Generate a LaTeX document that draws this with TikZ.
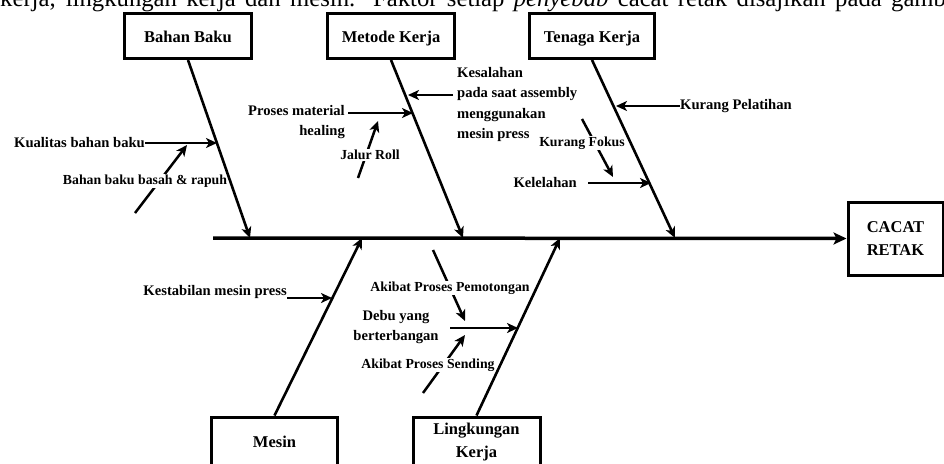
\documentclass[tikz,border=0pt]{standalone}
\usepackage{fontspec}
\setmainfont{Liberation Serif}
\usetikzlibrary{arrows.meta}
\begin{document}
\begin{tikzpicture}[x=1pt,y=-1pt,
  box/.style={draw,line width=3pt,inner sep=0pt,align=center,font=\bfseries\fontsize{16.5}{23}\selectfont},
  topbox/.style={box,minimum height=45pt,text height=15pt,text depth=3pt},
  bone/.style={line width=2.6pt,-{Stealth[length=11pt,width=10pt,inset=3pt]}},
  spine/.style={line width=3.5pt,-{Stealth[length=13pt,width=12pt,inset=3pt]}},
  sub/.style={line width=2.5pt,-{Stealth[length=11pt,width=10pt,inset=3pt]}},
  lbl/.style={inner sep=0pt,font=\bfseries\fontsize{14.6}{20.5}\selectfont},
  elbl/.style={inner sep=1pt,fill=white,font=\bfseries\fontsize{13.8}{17}\selectfont}]
\useasboundingbox (0,0) rectangle (944,463);
\clip (0,0) rectangle (944,463);

% cut-off (justified) body text at the top
\node[anchor=base west,inner sep=0pt,font=\fontsize{24.7}{28}\selectfont] (bodytext) at (0,6.5)
  {\makebox[965pt][s]{kerja, lingkungan kerja dan mesin. Faktor setiap \textit{penyebab} cacat retak disajikan pada gambar}};

% category boxes
\node[topbox,minimum width=126.5pt] (bb) at (188,36) {Bahan Baku};
\node[topbox,minimum width=127pt] (mk) at (391,36) {Metode Kerja};
\node[topbox,minimum width=124.5pt] (tk) at (592,36) {Tenaga Kerja};
\node[box,minimum width=126pt,minimum height=50pt] (ms) at (274.5,442) {Mesin};
\node[box,minimum width=127pt,minimum height=50pt] (lk) at (476.5,442) {Lingkungan\\Kerja};
\node[box,minimum width=95pt,minimum height=73pt] (head) at (895.5,238.5) {CACAT\\RETAK};

% spine
\coordinate (tail) at (213,238);
\draw[spine] (tail) -- (head.west);

% bone end points on the spine
\coordinate (sbb) at (250,238);
\coordinate (smk) at (463,238);
\coordinate (stk) at (675,238);
\coordinate (sms) at (362,238);
\coordinate (slk) at (560,238);

% ---- Bahan Baku ----
\node[lbl,anchor=east] (kbb) at (145,143) {Kualitas bahan baku};
\coordinate (pkbb) at (217,143);
\draw[sub] (kbb.east) -- (pkbb);
\coordinate (bbr0) at (135,213);
\coordinate (bbr1) at (187,145);
\draw[sub] (bbr0) -- (bbr1);
\node[elbl] (bbr) at (145,181) {Bahan baku basah \& rapuh};

% ---- Metode Kerja ----
\node[lbl,anchor=east,align=right] (pmh) at (345,122) {Proses material\\healing};
\coordinate (ppmh) at (413,113);
\draw[sub] (348,113) -- (ppmh);
\coordinate (jr0) at (358,178);
\coordinate (jr1) at (378,121);
\draw[sub] (jr0) -- (jr1);
\node[elbl] (jr) at (370,155) {Jalur Roll};
\node[lbl,anchor=north west,align=left] (ksl) at (457,67) {Kesalahan\\pada saat assembly\\menggunakan\\mesin press};
\coordinate (pksl) at (408,95);
\draw[sub] (453,95) -- (pksl);

% ---- Tenaga Kerja ----
\node[lbl,anchor=west] (kp) at (680,106) {Kurang Pelatihan};
\coordinate (pkp) at (616,106);
\draw[sub] (kp.west) -- (pkp);
\node[lbl,anchor=east] (kel) at (577,183) {Kelelahan};
\coordinate (pkel) at (651,183);
\draw[sub] (588,183) -- (pkel);
\coordinate (kf0) at (582,119);
\coordinate (kf1) at (613,177);
\draw[sub] (kf0) -- (kf1);
\node[elbl] (kf) at (582,143) {Kurang Fokus};

% ---- Mesin ----
\node[lbl,anchor=east] (kmp) at (287,292) {Kestabilan mesin press};
\coordinate (pkmp) at (332,298);
\draw[sub] (287,298) -- (pkmp);

% ---- Lingkungan Kerja ----
\node[lbl,align=center] (dyb) at (396,327) {Debu yang\\berterbangan};
\coordinate (pdyb) at (518,328);
\draw[sub] (450,328) -- (pdyb);
\coordinate (ap0) at (433,250);
\coordinate (ap1) at (465,321);
\draw[sub] (ap0) -- (ap1);
\node[elbl] (ap) at (450,288) {Akibat Proses Pemotongan};
\coordinate (as0) at (423,393);
\coordinate (as1) at (465,335);
\draw[sub] (as0) -- (as1);
\node[elbl] (as) at (428,365) {Akibat Proses Sending};

% bones
\draw[bone] (bb.south) -- (sbb);
\draw[bone] (mk.south) -- (smk);
\draw[bone] (tk.south) -- (stk);
\draw[bone] (ms.north) -- (sms);
\draw[bone] (lk.north) -- (slk);
\end{tikzpicture}
\end{document}
